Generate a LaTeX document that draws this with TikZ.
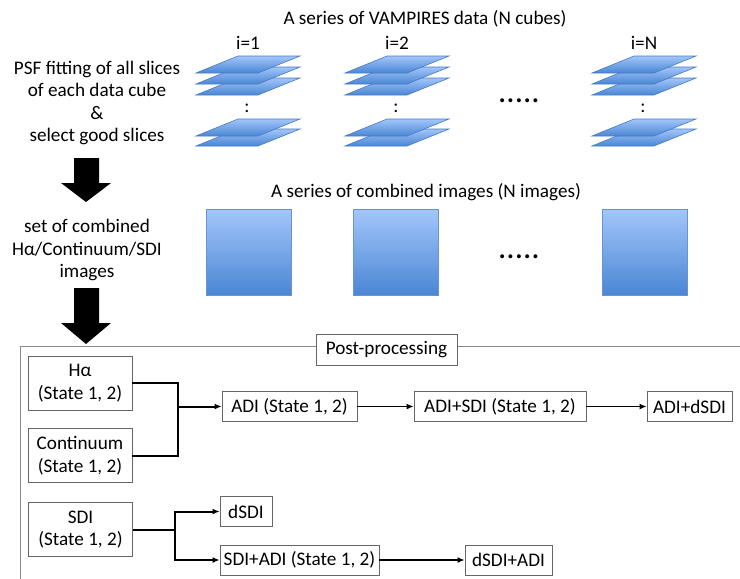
\documentclass[tikz,border=0pt]{standalone}
\usepackage{fontspec}
\setmainfont{Carlito}
\usetikzlibrary{arrows.meta,positioning}
\definecolor{platetop}{HTML}{A3C6FA}
\definecolor{platebot}{HTML}{4A86D4}
\definecolor{plateedge}{HTML}{4479C4}
\definecolor{boxedge}{HTML}{666666}
\definecolor{frameline}{HTML}{8A8A8A}
\tikzset{
  txt/.style={font=\fontsize{19.2}{22.5}\selectfont, inner sep=0pt, align=center},
  box/.style={txt, draw=boxedge, line width=0.8pt, fill=white, minimum height=30pt},
  tallbox/.style={box, minimum width=104pt, minimum height=54pt},
  plate/.style={draw=plateedge, line width=0.6pt, top color=platetop, bottom color=platebot},
  img/.style={draw=plateedge!80, line width=0.6pt, top color=platetop, bottom color=platebot},
  bigarrow/.style={fill=black},
  fork/.style={line width=2pt},
  link/.style={line width=1.6pt, -{Latex[length=7pt,width=6pt]}},
}
\begin{document}
\begin{tikzpicture}[x=1pt,y=-1pt]
    \useasboundingbox (0,0) rectangle (740,579);

    \node[txt] (title1) at (425,19) {A series of VAMPIRES data (N cubes)};
    \node[txt] (title2) at (426,192) {A series of combined images (N images)};

    \node[txt] (psf) at (97,103) {PSF fitting of all slices\\of each data cube\\\&\\select good slices};
    \node[txt] (comb) at (87,250) {set of combined\\Hα/Continuum/SDI\\images};

    \fill[bigarrow] (74,158) -- (99,158) -- (99,183) -- (111,183)
                 -- (86,202) -- (61,183) -- (74,183) -- cycle;
    \fill[bigarrow] (74,288) -- (99,288) -- (99,323) -- (111,323)
                 -- (86,344) -- (61,323) -- (74,323) -- cycle;

    \foreach \px/\lab in {196/1,345/2,592/N} {
        \node[txt] (lab\lab) at (\px+52,43) {i=\lab};
        \foreach \py in {95,84,73,146,136}
            \draw[plate] (\px,\py) -- ++(62,0) -- ++(42,-17) -- ++(-62,0) -- cycle;
        \node[txt] (col\lab) at (\px+51,108) {:};
    }
    \node[txt, font=\fontsize{33}{33}\selectfont, anchor=base] (dots1) at (519,102) {.....};

    \foreach \ix in {206,353,602}
        \draw[img] (\ix,209) rectangle ++(85,86);
    \node[txt, font=\fontsize{33}{33}\selectfont, anchor=base] (dots2) at (519,258) {.....};

    \draw[frameline, line width=0.8pt] (740,346) -- (20,346) -- (20,579);
    \node[box, minimum width=141pt, minimum height=31pt] (post) at (386.5,349.5) {Post-processing};

    \node[tallbox] (ha) at (80,383) {Hα\\(State 1, 2)};
    \node[tallbox] (cont) at (80,455.5) {Continuum\\(State 1, 2)};
    \node[tallbox] (sdi) at (80.5,529.5) {SDI\\(State 1, 2)};

    \node[box, minimum width=135pt] (adi) at (289.5,406.5) {ADI (State 1, 2)};
    \node[box, minimum width=172pt] (adisdi) at (500,406.5) {ADI+SDI (State 1, 2)};
    \node[box, minimum width=85pt] (adidsdi) at (689.5,406.5) {ADI+dSDI};
    \node[box, minimum width=52pt] (dsdi) at (246,511.5) {dSDI};
    \node[box, minimum width=159pt] (sdiadi) at (299.5,560) {SDI+ADI (State 1, 2)};
    \node[box, minimum width=87pt] (dsdiadi) at (508.5,560) {dSDI+ADI};

    \coordinate (j1) at (178,406.5);
    \coordinate (j2) at (175,529.5);
    \draw[fork] (ha.east) -| (j1);
    \draw[fork] (cont.east) -| (j1);
    \draw[fork, -{Latex[length=7pt,width=6pt]}] (j1) -- (adi.west);
    \draw[link] (adi.east) -- (adisdi.west);
    \draw[link] (adisdi.east) -- (adidsdi.west);

    \draw[fork] (sdi.east) -- (j2);
    \draw[fork, -{Latex[length=7pt,width=6pt]}] (j2) |- (dsdi.west);
    \draw[fork, -{Latex[length=7pt,width=6pt]}] (j2) |- (sdiadi.west);
    \draw[link] (sdiadi.east) -- (dsdiadi.west);
\end{tikzpicture}
\end{document}
